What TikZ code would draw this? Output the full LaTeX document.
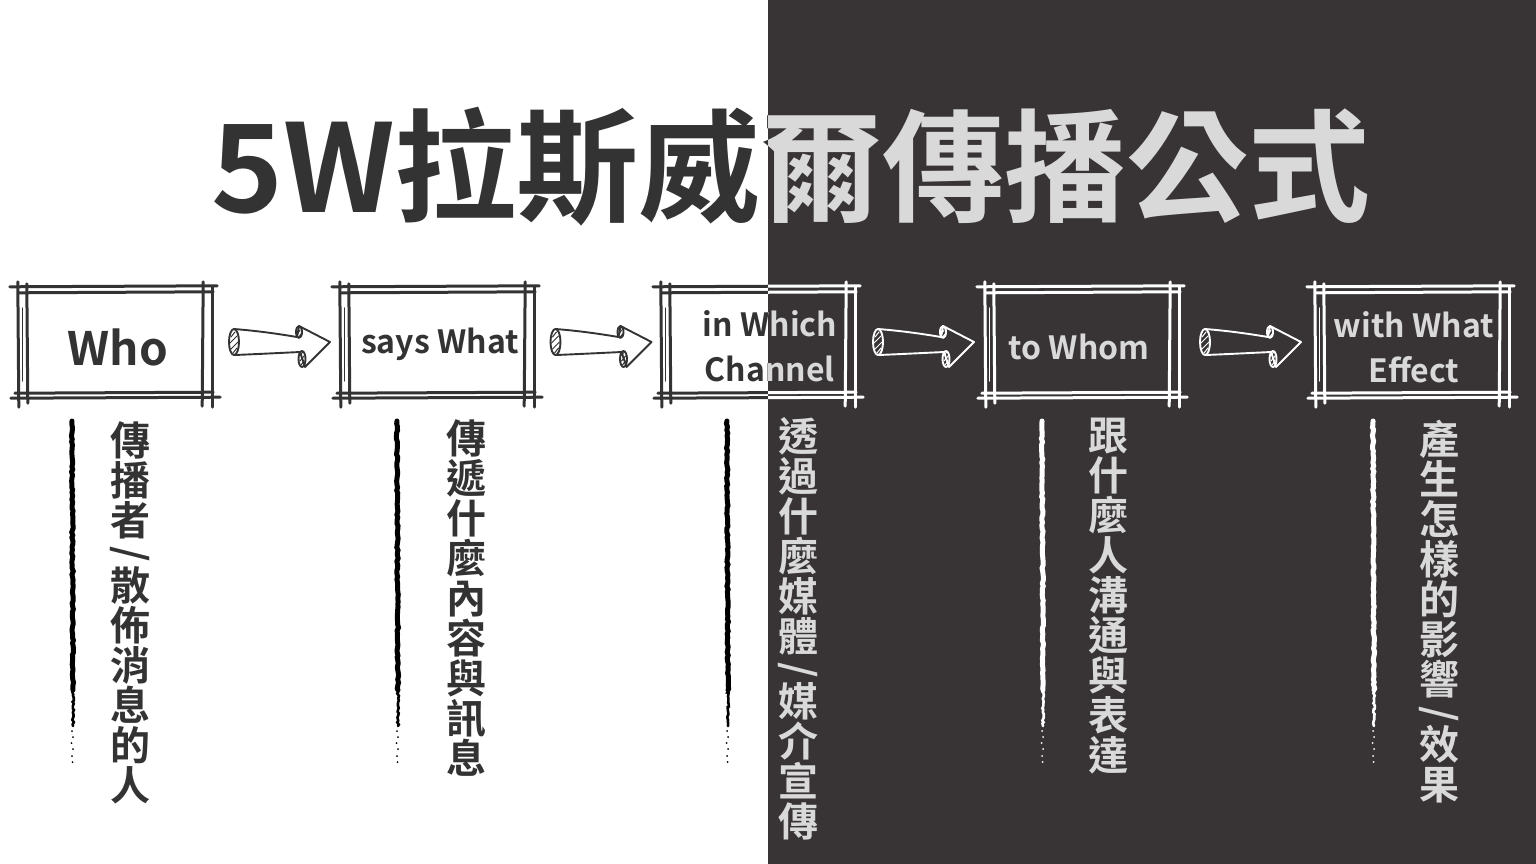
\documentclass[tikz,border=0pt]{standalone}
\usepackage{fontspec}
\setmainfont{Noto Sans CJK TC}[BoldFont={* Bold}]
\usepackage{graphicx}
\usetikzlibrary{calc}
\usetikzlibrary{decorations.pathmorphing}
\definecolor{darkbg}{RGB}{56,52,53}
\definecolor{inkdark}{RGB}{51,51,51}
\definecolor{inklight}{RGB}{217,217,217}
\tikzstyle{boxline}=[draw=\inkc, line width=3pt, line cap=round]
\tikzstyle{thinline}=[draw=\inkc, line width=1pt, line cap=round]
\tikzstyle{arrowline}=[draw=\inkc, line width=1.9pt, line join=round, line cap=round]
\tikzstyle{brushline}=[draw=\brushc, line width=5pt, line cap=round]
\tikzstyle{boxnode}=[minimum width=176pt, minimum height=100pt, inner sep=0pt]
\tikzstyle{boxtext}=[text=\txtc, align=center, inner sep=0pt, font=\bfseries\fontsize{32}{45}\selectfont]
\tikzstyle{coltext}=[text=\txtc, align=center, inner sep=0pt, anchor=north, font=\bfseries\fontsize{40}{40}\selectfont]
\tikzstyle{titletext}=[text=\txtc, inner sep=0pt, font=\bfseries\fontsize{122}{130}\selectfont]
\newcommand{\vslash}{\rotatebox[origin=c]{-90}{/}}
\newcommand{\sketchbox}[1]{
	\draw[boxline] ($(#1.north west)+(-17,-6)$) -- ($(#1.north east)+(14,-7)$);
	\draw[boxline] ($(#1.north west)+(-8,0)$) -- ($(#1.north east)+(10,-1)$);
	\draw[boxline] ($(#1.south west)+(-12,0)$) -- ($(#1.south east)+(10,-1)$);
	\draw[boxline] ($(#1.south west)+(-16,5)$) -- ($(#1.south east)+(17,4)$);
	\draw[boxline] ($(#1.north west)+(-9,-11)$) -- ($(#1.south west)+(-8,14)$);
	\draw[boxline] ($(#1.north west)+(0,-9)$) -- ($(#1.south west)+(1,10)$);
	\draw[thinline] ($(#1.north west)+(-4,15)$) -- ($(#1.south west)+(-4,-12)$);
	\draw[boxline] ($(#1.north east)+(0,-11)$) -- ($(#1.south east)+(-1,13)$);
	\draw[boxline] ($(#1.north east)+(9,-6)$) -- ($(#1.south east)+(9,14)$);
}
\newcommand{\sketcharrow}[2]{
	\begin{scope}[shift={($(#1.east)!0.5!(#2.west)+(3,-1)$)}]
		\draw[arrowline] (-45,-13) .. controls (-20,-11) and (0,-8) .. (18,-5)
			-- (20,-16) -- (51,0) -- (26,25) -- (21,10)
			.. controls (0,11) and (-20,12) .. (-44,13);
		\draw[arrowline] (-45,0) ellipse [x radius=5pt, y radius=13pt];
		\draw[arrowline] (20,-10) ellipse [x radius=3pt, y radius=6pt];
		\draw[arrowline] (23,17) ellipse [x radius=3.5pt, y radius=8pt];
		\draw[thinline] (-48,-5) -- (-44,-10) (-49,1) -- (-42,-6) (-48,7) -- (-41,0) (-46,11) -- (-42,6);
		\draw[thinline] (18,-7) -- (21,-12) (19,-4) -- (22,-8);
		\draw[thinline] (20,14) -- (24,10) (21,19) -- (25,14) (22,23) -- (25,19);
	\end{scope}
}
\newcommand{\brush}[1]{
	\pgfmathsetseed{#1}
	\draw[brushline, decorate, decoration={random steps, segment length=3pt, amplitude=0.7pt}] (#1,421) -- (#1+1,690);
	\draw[brushline, line width=2.6pt, decorate, decoration={random steps, segment length=2pt, amplitude=0.9pt}] (#1+1,688) -- (#1+1,726);
	\foreach \yy/\dx in {731/0, 737/1, 743/-0.5, 749/1, 756/0, 762/0.5}
		\fill[\brushc] (#1+\dx,\yy) circle [radius=1pt];
}
\newcommand{\allparts}{
	\node[titletext] (title) at (791,167) {5W拉斯威爾傳播公式};
	% the five boxes
	\node[boxnode] (who) at (115,343) {};
	\node[boxnode] (what) at (437,343) {};
	\node[boxnode] (channel) at (758,343) {};
	\node[boxnode] (whom) at (1082,343) {};
	\node[boxnode] (effect) at (1412,343) {};
	\foreach \b in {who,what,channel,whom,effect}{\sketchbox{\b}}
	\node[boxtext, font=\bfseries\fontsize{46}{48}\selectfont] (whotext) at ($(who)+(3,4)$) {Who};
	\node[boxtext] (whattext) at ($(what)+(3,1)$) {says What};
	\node[boxtext] (channeltext) at ($(channel)+(12,3)$) {in Which\\Channel};
	\node[boxtext] (whomtext) at ($(whom)+(-3,4)$) {to Whom};
	\node[boxtext] (effecttext) at ($(effect)+(2,4)$) {with What\\Effect};
	\sketcharrow{who}{what}
	\sketcharrow{what}{channel}
	\sketcharrow{channel}{whom}
	\sketcharrow{whom}{effect}
	% columns below
	\brush{72}
	\brush{397}
	\brush{727}
	\brush{1042}
	\brush{1373}
	\node[coltext] (whocol) at (130,421) {傳\\播\\者\\[-8pt]\vslash\\[-7pt]散\\佈\\消\\息\\的\\人};
	\node[coltext] (whatcol) at (466,419) {傳\\遞\\什\\麼\\內\\容\\與\\訊\\息};
	\node[coltext] (channelcol) at (798,417) {透\\過\\什\\麼\\媒\\體\\[-8pt]\vslash\\[-7pt]媒\\介\\宣\\傳};
	\node[coltext] (whomcol) at (1108,418) {跟\\什\\麼\\人\\溝\\通\\與\\表\\達};
	\node[coltext] (effectcol) at (1439,420) {產\\生\\怎\\樣\\的\\影\\響\\[-8pt]\vslash\\[-7pt]效\\果};
}
\newcommand{\layer}[3]{\def\inkc{#1}\def\txtc{#2}\def\brushc{#3}\allparts}

\begin{document}
\begin{tikzpicture}[x=1pt,y=-1pt]
	\useasboundingbox (0,0) rectangle (1536,864);
	\fill[white] (0,0) rectangle (1536,864);
	\layer{inkdark}{inkdark}{black}
	\fill[darkbg] (768,0) rectangle (1536,864);
	\begin{scope}
		\clip (768,0) rectangle (1536,864);
		\layer{white}{inklight}{white}
	\end{scope}
\end{tikzpicture}
\end{document}
